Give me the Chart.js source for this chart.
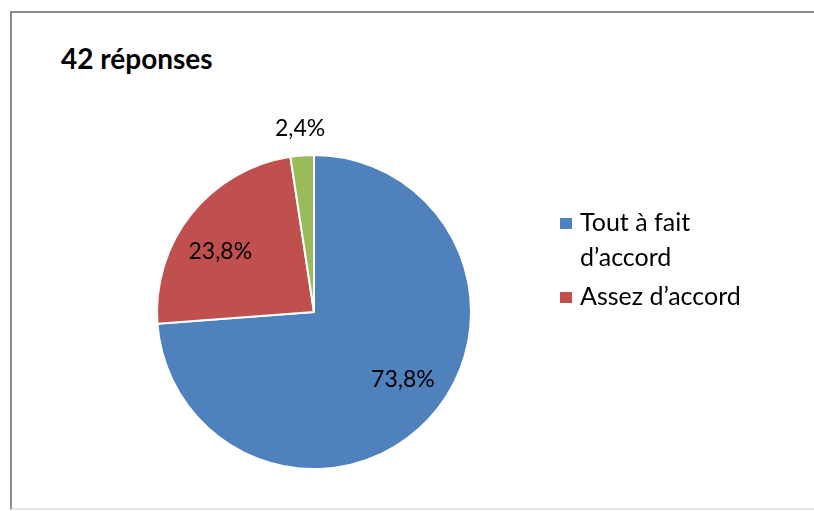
<!DOCTYPE html>
<html lang="fr">
<head>
<meta charset="utf-8">
<script src="https://cdn.jsdelivr.net/npm/chart.js@4.4.1/dist/chart.umd.min.js"></script>
<style>
  html, body { margin: 0; padding: 0; background: #fff; }
  body { width: 814px; height: 511px; position: relative; overflow: hidden; font-family: Lato, "Open Sans", sans-serif; }
  #frame { position: absolute; left: 10px; top: 11px; width: 830px; height: 499px; border: 2px solid #8c8c8c; border-bottom-color: #e4e4e4; box-sizing: border-box; }
  #title { position: absolute; left: 61px; top: 44px; font-weight: bold; font-size: 28px; line-height: 1; color: #000; white-space: nowrap; }
  #wrap { position: absolute; left: 0; top: 0; width: 814px; height: 511px; }
  #legend { position: absolute; left: 560px; top: 204px; width: 200px; margin: 0; padding: 0; list-style: none; }
  #legend li { position: relative; padding-left: 20px; font-size: 25px; line-height: 35px; color: #000; margin-bottom: 4px; }
  #legend li span.box { position: absolute; left: 0; top: 14px; width: 12px; height: 11px; }
</style>
</head>
<body>
<div id="frame"></div>
<div id="title">42 réponses</div>
<div id="wrap"><canvas id="chart" width="814" height="511"></canvas></div>
<ul id="legend"></ul>
<script>
// Réponses au questionnaire (42 réponses)
const categories = ["Tout à fait d’accord", "Assez d’accord", "Plutôt pas d’accord"];
const percentages = [73.8, 23.8, 2.4];
const sliceColors = ["#4F81BD", "#C0504D", "#9BBB59"];
const legendShown = 2;

// percentage labels placed from each arc's own geometry
const pieLabels = {
  id: "pieLabels",
  afterDatasetsDraw(chart) {
    const ctx = chart.ctx;
    const meta = chart.getDatasetMeta(0);
    ctx.save();
    ctx.font = "23px Lato, 'Open Sans', sans-serif";
    ctx.fillStyle = "#000";
    ctx.textAlign = "center";
    ctx.textBaseline = "middle";
    meta.data.forEach((arc, i) => {
      const v = chart.data.datasets[0].data[i];
      const mid = (arc.startAngle + arc.endAngle) / 2;
      const small = v < 5;
      const angle = small ? mid : mid - 0.1;
      const dist = small ? arc.outerRadius + 27 : arc.outerRadius * 0.71;
      const x = arc.x + Math.cos(angle) * dist;
      const y = arc.y + Math.sin(angle) * dist;
      ctx.fillText(v.toFixed(1).replace(".", ",") + "%", x, y);
    });
    ctx.restore();
  }
};

const chart = new Chart(document.getElementById("chart"), {
  type: "pie",
  data: {
    labels: categories,
    datasets: [{
      data: percentages,
      backgroundColor: sliceColors,
      borderColor: "#ffffff",
      borderWidth: 2
    }]
  },
  options: {
    responsive: false,
    animation: false,
    layout: { padding: { left: 156, right: 342, top: 154, bottom: 41 } },
    plugins: {
      legend: { display: false },
      tooltip: { enabled: false },
      title: { display: false }
    }
  },
  plugins: [pieLabels]
});

// HTML legend (first entries only)
const ul = document.getElementById("legend");
categories.slice(0, legendShown).forEach((c, i) => {
  const li = document.createElement("li");
  const box = document.createElement("span");
  box.className = "box";
  box.style.background = sliceColors[i];
  li.appendChild(box);
  li.appendChild(document.createTextNode(c));
  ul.appendChild(li);
});
</script>
</body>
</html>
